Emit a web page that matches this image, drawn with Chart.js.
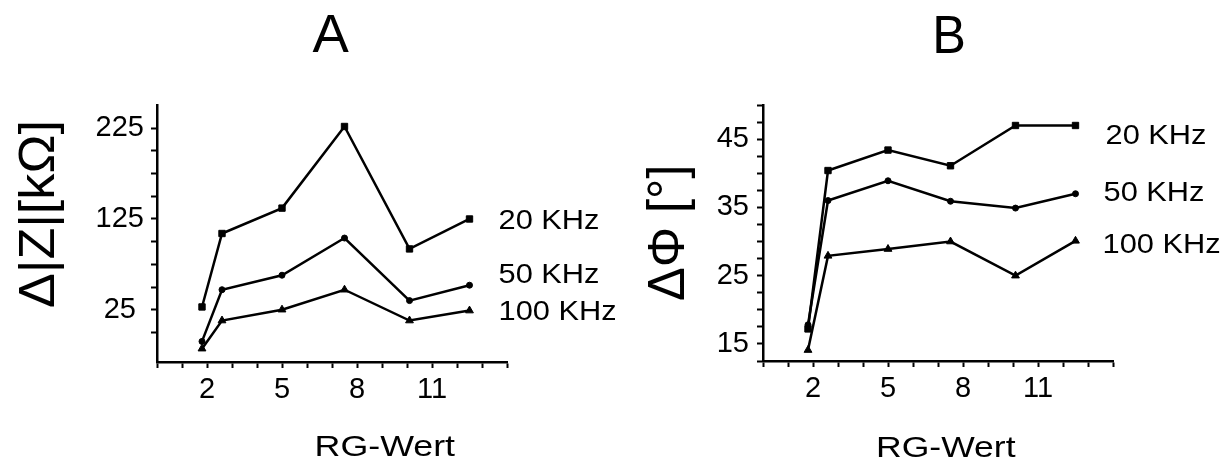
<!DOCTYPE html>
<html>
<head>
<meta charset="utf-8">
<script src="https://cdn.jsdelivr.net/npm/chart.js@4.4.1/dist/chart.umd.min.js"></script>
<style>
  html, body { margin: 0; padding: 0; background: #fff; }
  #wrap { position: relative; width: 1229px; height: 464px; }
  .panel { position: absolute; top: 0; height: 464px; }
  #panelA { left: 0; width: 615px; }
  #panelB { left: 615px; width: 614px; }
</style>
</head>
<body>
<div id="wrap">
  <div class="panel" id="panelA"><canvas id="chartA"></canvas></div>
  <div class="panel" id="panelB"><canvas id="chartB"></canvas></div>
</div>
<script>
var rgWert = [1.8, 2.6, 5.0, 7.5, 10.1, 12.5];
var seriesNames = ['20 KHz', '50 KHz', '100 KHz'];

// Δ|Z| [kΩ]
var impedance20 = [28, 109, 137, 227, 92, 125];
var impedance50 = [-10, 47, 63, 104, 35, 52];
var impedance100 = [-18, 13, 25, 47, 13, 24];

// ΔΦ [°]
var phase20 = [17.2, 40.4, 43.4, 41.1, 47, 47];
var phase50 = [17.8, 36, 38.9, 35.9, 34.9, 37];
var phase100 = [14.1, 27.9, 28.9, 30, 25, 30.1];

var xTickLabels = [2, 5, 8, 11];
var yTickLabelsA = [25, 125, 225];
var yTickLabelsB = [15, 25, 35, 45];

var FONT = '"Liberation Sans", Arial, Helvetica, sans-serif';
var pointStyles = ['rect', 'circle', 'triangle'];
var pointSizes = [4.5, 3, 4.5];

function hasLabel(list, v) {
  return list.some(function (l) { return Math.abs(l - v) < 1e-6; });
}

// draws one text item, stretched sideways to the given ink width
function drawText(ctx, t) {
  ctx.save();
  ctx.font = t.size + 'px ' + FONT;
  ctx.fillStyle = '#000';
  ctx.textAlign = 'center';
  ctx.textBaseline = 'alphabetic';
  var m = ctx.measureText(t.text);
  var ink = m.actualBoundingBoxLeft + m.actualBoundingBoxRight;
  var sx = t.width ? t.width / ink : 1;
  ctx.translate(t.x, t.y);
  if (t.rotate) ctx.rotate(-Math.PI / 2);
  ctx.scale(sx, 1);
  ctx.fillText(t.text, (m.actualBoundingBoxLeft - m.actualBoundingBoxRight) / 2, 0);
  ctx.restore();
}

var panelText = {
  id: 'panelText',
  afterDatasetsDraw: function (chart, args, opts) {
    var ctx = chart.ctx;
    (opts.items || []).forEach(function (t) { drawText(ctx, t); });
    // series names next to the last point of each line
    chart.data.datasets.forEach(function (ds, i) {
      var pts = chart.getDatasetMeta(i).data;
      var last = pts[pts.length - 1];
      ctx.save();
      ctx.font = '28px ' + FONT;
      ctx.fillStyle = '#000';
      ctx.textAlign = 'left';
      ctx.textBaseline = 'alphabetic';
      ctx.translate(last.x + ds.tagOffset[0], last.y + ds.tagOffset[1]);
      ctx.scale(1.1, 1);
      ctx.fillText(ds.label, 0, 0);
      ctx.restore();
    });
  }
};

function makeChart(id, cfg) {
  var datasets = cfg.series.map(function (vals, i) {
    return {
      label: seriesNames[i],
      data: rgWert.map(function (x, k) { return { x: x, y: vals[k] }; }),
      borderColor: '#000',
      borderWidth: 2.5,
      backgroundColor: '#000',
      pointStyle: pointStyles[i],
      pointRadius: pointSizes[i],
      pointBackgroundColor: '#000',
      pointBorderColor: '#000',
      pointBorderWidth: 1,
      tension: 0,
      tagOffset: cfg.tagOffsets[i]
    };
  });

  return new Chart(document.getElementById(id), {
    type: 'line',
    data: { datasets: datasets },
    options: {
      responsive: true,
      maintainAspectRatio: false,
      animation: false,
      layout: { padding: { left: 0, top: 105, right: cfg.padRight, bottom: 0 } },
      plugins: {
        legend: { display: false },
        tooltip: { enabled: false },
        panelText: { items: cfg.texts }
      },
      scales: {
        x: {
          type: 'linear',
          min: 0,
          max: 14,
          border: { color: '#000', width: 2.5 },
          grid: { drawOnChartArea: false, drawTicks: true, tickLength: 6, tickColor: '#000', tickWidth: 2 },
          ticks: {
            stepSize: 1,
            autoSkip: false,
            maxRotation: 0,
            padding: 5,
            color: '#000',
            font: { family: FONT, size: 29 },
            callback: function (v) { return hasLabel(xTickLabels, v) ? String(v) : ''; }
          },
          afterFit: function (s) { s.height = cfg.xHeight; }
        },
        y: {
          type: 'linear',
          min: cfg.yMin,
          max: cfg.yMax,
          border: { color: '#000', width: 2.5 },
          grid: { drawOnChartArea: false, drawTicks: true, tickLength: 6, tickColor: '#000', tickWidth: 2 },
          ticks: {
            stepSize: cfg.yStep,
            autoSkip: false,
            padding: cfg.tickPad,
            crossAlign: 'center',
            color: '#000',
            font: { family: FONT, size: 29 },
            callback: function (v) { return hasLabel(cfg.yLabels, v) ? String(v) : ''; }
          },
          afterBuildTicks: function (s) {
            s.ticks = s.ticks.filter(function (t) {
              var r = t.value / cfg.yStep;
              return Math.abs(r - Math.round(r)) < 1e-6;
            });
          },
          afterFit: function (s) { s.width = cfg.yWidth; }
        }
      }
    },
    plugins: [panelText]
  });
}

makeChart('chartA', {
  series: [impedance20, impedance50, impedance100],
  tagOffsets: [[29, 10], [29, -2], [29, 9]],
  yMin: -32.7, yMax: 250.7, yStep: 25, yLabels: yTickLabelsA,
  yWidth: 157, xHeight: 102, padRight: 108, tickPad: 7,
  texts: [
    { text: 'A', x: 331, y: 52, size: 53, width: 37 },
    { text: 'RG-Wert', x: 386, y: 456, size: 29, width: 138 },
    { text: 'Δ|Z|[kΩ]', x: 54, y: 215, size: 50, width: 184, rotate: true }
  ]
});

makeChart('chartB', {
  series: [phase20, phase50, phase100],
  tagOffsets: [[30, 19], [28, 7], [27, 12]],
  yMin: 12.5, yMax: 50, yStep: 2.5, yLabels: yTickLabelsB,
  yWidth: 148, xHeight: 103, padRight: 116, tickPad: 8,
  texts: [
    { text: 'B', x: 335, y: 53, size: 54, width: 28 },
    { text: 'RG-Wert', x: 332, y: 457, size: 29, width: 137 },
    { text: 'ΔΦ [°]', x: 69, y: 234, size: 52, width: 132, rotate: true }
  ]
});
</script>
</body>
</html>
